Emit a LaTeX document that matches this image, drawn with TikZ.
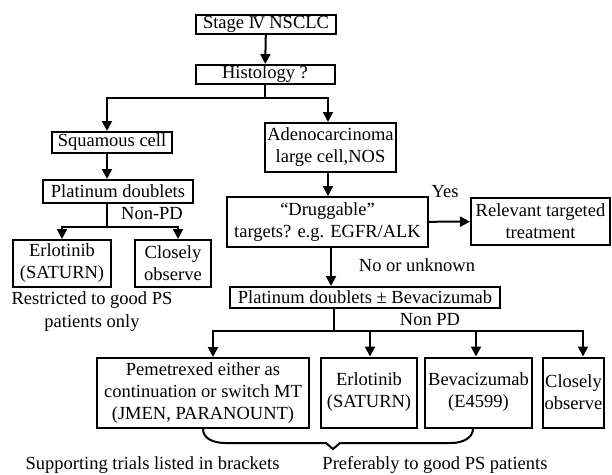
\documentclass[tikz,border=0pt]{standalone}
\usepackage{fontspec}
\setmainfont{Liberation Serif}
\newfontfamily\numfont{DejaVu Serif}
\usetikzlibrary{arrows.meta}

\begin{document}
\begin{tikzpicture}[
    x=1pt, y=-1pt,
    every node/.style={font=\fontsize{18.5}{22}\selectfont},
    box/.style={draw=black, line width=2pt, fill=white, align=center,
        inner sep=0pt},
    line/.style={line width=2pt},
    arrow/.style={line width=2pt, -{Triangle[length=10pt,width=10pt]}},
    note/.style={align=center, inner sep=0pt}
]
    \useasboundingbox (0,0) rectangle (612,474);
    % boxes
    \node[box, minimum width=140pt, minimum height=19pt] (stage) at (266,24.5) {Stage {\numfont\fontsize{16}{20}\selectfont Ⅳ} NSCLC};
    \node[box, minimum width=139pt, minimum height=19pt] (hist) at (265,74.5) {Histology ?};
    \node[box, minimum width=120pt, minimum height=21pt] (squam) at (112,142.5) {Squamous cell};
    \node[box, minimum width=131pt, minimum height=49pt] (adeno) at (330.5,147.5) {Adenocarcinoma\\large cell,NOS};
    \node[box, minimum width=150pt, minimum height=23pt] (plat1) at (118,191.5) {Platinum doublets};
    \node[box, minimum width=98pt, minimum height=47pt] (erl1) at (62,263.5) {Erlotinib\\(SATURN)};
    \node[box, minimum width=76pt, minimum height=47pt] (obs1) at (173,263.5) {Closely\\observe};
    \node[box, minimum width=201pt, minimum height=50pt] (drug) at (327.5,222) {``Druggable''\\targets? e.g. EGFR/ALK};
    \node[box, minimum width=139pt, minimum height=47pt] (rel) at (540.5,221.5) {Relevant targeted\\treatment};
    \node[box, minimum width=270pt, minimum height=21pt] (plat2) at (365,297.5) {Platinum doublets ± Bevacizumab};
    \node[box, minimum width=212pt, minimum height=70pt] (pem) at (203,393) {Pemetrexed either as\\continuation or switch MT\\(JMEN, PARANOUNT)};
    \node[box, minimum width=96pt, minimum height=70pt] (erl2) at (369,392.5) {Erlotinib\\(SATURN)};
    \node[box, minimum width=107pt, minimum height=70pt] (bev) at (478.5,392.5) {Bevacizumab\\(E4599)};
    \node[box, minimum width=61pt, minimum height=70pt] (obs2) at (573.5,392.5) {Closely\\observe};
    % labels
    \node[note] (nonpd1) at (152,214) {Non-PD};
    \node[note] (yes) at (445,192) {Yes};
    \node[note] (nounk) at (417,265) {No or unknown};
    \node[note] (nonpd2) at (430,320) {Non PD};
    \node[note] (restr) at (92,311.5) {Restricted to good PS\\[1pt]patients only};
    \node[note] (supp) at (152.5,465) {Supporting trials listed in brackets};
    \node[note] (pref) at (435,465) {Preferably to good PS patients};
    % branch points
    \coordinate (br1) at (265,98);
    \coordinate (br2) at (107,227);
    \coordinate (br3) at (334,331);
    % connectors
    \draw[arrow] (stage) -- (hist);
    \draw[line] (hist) -- (br1);
    \draw[arrow] (br1) -| ([xshift=-5pt]squam.north);
    \draw[arrow] (br1) -| ([xshift=-2.5pt]adeno.north);
    \draw[arrow] ([xshift=-5pt]squam.south) -- ([xshift=-5pt]squam.south |- plat1.north);
    \draw[line] (br2 |- plat1.south) -- (br2);
    \draw[arrow] (br2) -| (erl1.north);
    \draw[arrow] (br2) -| ([xshift=5pt]obs1.north);
    \draw[arrow] ([xshift=-2.5pt]adeno.south) -- ([xshift=-2.5pt]adeno.south |- drug.north);
    \draw[arrow] (drug) -- (rel);
    \draw[arrow] ([xshift=3.5pt]drug.south) -- ([xshift=3.5pt]drug.south |- plat2.north);
    \draw[line] (br3 |- plat2.south) -- (br3);
    \draw[arrow] (br3) -| ([xshift=10pt]pem.north);
    \draw[arrow] (br3) -| ([xshift=1pt]erl2.north);
    \draw[arrow] (br3) -| ([xshift=-2.5pt]bev.north);
    \draw[arrow] (br3) -| ([xshift=9.5pt]obs2.north);
    % brace under the first three choices
    \draw[line] (pem.south) to[out=-90, in=180] (225,443) -- (326,443)
        -- (333,449) -- (340,443) -- (451,443)
        to[out=0, in=-90] ([xshift=-5.5pt]bev.south);
\end{tikzpicture}
\end{document}
